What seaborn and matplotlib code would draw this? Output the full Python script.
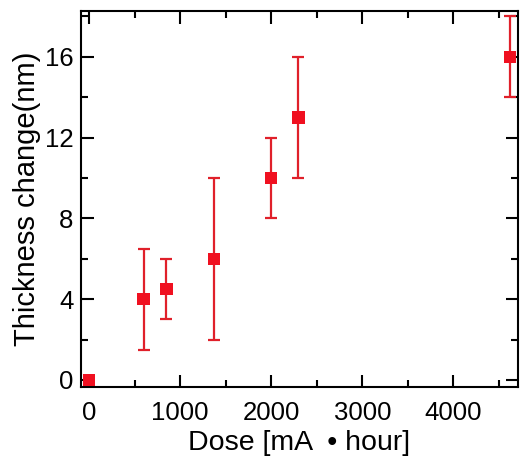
import numpy as np
import pandas as pd
import matplotlib
matplotlib.use("Agg")
import matplotlib.pyplot as plt
import seaborn as sns
from matplotlib.ticker import MultipleLocator

dose = [0, 600, 850, 1370, 2000, 2300, 4620]
thickness = [0, 4, 4.5, 6, 10, 13, 16]
err_low = [0, 1.5, 3, 2, 8, 10, 14]
err_high = [0, 6.5, 6, 10, 12, 16, 18]

sns.set_theme(style="ticks")
plt.rcParams['font.family'] = ['Liberation Sans', 'DejaVu Sans']
plt.rcParams['text.color'] = 'black'
plt.rcParams['axes.labelcolor'] = 'black'
plt.rcParams['xtick.labelcolor'] = 'black'
plt.rcParams['ytick.labelcolor'] = 'black'

df = pd.DataFrame({"dose": dose, "thickness": thickness})

fig = plt.figure(figsize=(5.25, 4.63), dpi=100)
ax = fig.add_axes([81/525, 1 - 387/463, (518-81)/525, (387-11)/463])

yerr = np.array([np.array(thickness) - np.array(err_low),
                 np.array(err_high) - np.array(thickness)])
ax.errorbar(dose, thickness, yerr=yerr, fmt='none', ecolor='#e0202a',
            elinewidth=1.6, capsize=4.3, capthick=1.6, zorder=2)
sns.scatterplot(data=df, x="dose", y="thickness", marker='s', s=80,
                color='#f01020', edgecolor='none', ax=ax, zorder=3)

ax.set_xlim(-88, 4710)
ax.set_ylim(-0.35, 18.27)
ax.xaxis.set_major_locator(MultipleLocator(1000))
ax.xaxis.set_minor_locator(MultipleLocator(500))
ax.yaxis.set_major_locator(MultipleLocator(4))
ax.yaxis.set_minor_locator(MultipleLocator(2))
ax.tick_params(which='both', direction='in', top=True, right=True,
               labelsize=18.5, width=1.5, color='black')
ax.tick_params(axis='y', pad=5.5)
ax.tick_params(axis='x', pad=10)
ax.tick_params(which='major', length=9)
ax.tick_params(which='minor', length=5)
for sp in ax.spines.values():
    sp.set_linewidth(1.5)
    sp.set_color('black')

ax.set_xlabel("Dose [mA  \u2022 hour]", fontsize=20.5, labelpad=4)
ax.set_ylabel("Thickness change(nm)", fontsize=21, labelpad=3)

fig.savefig("out.png", dpi=100)
